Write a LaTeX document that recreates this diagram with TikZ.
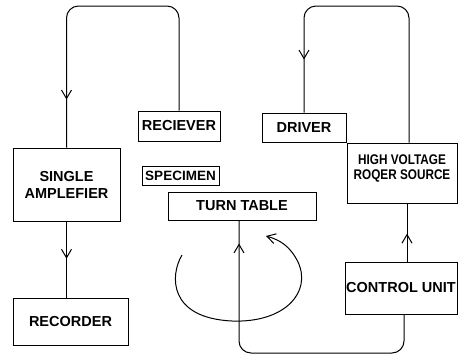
\documentclass[tikz,border=0pt]{standalone}
\usepackage{fontspec}
\setmainfont{Liberation Sans}
\newfontfamily\narrowsans[FakeStretch=0.84]{Liberation Sans}
\usetikzlibrary{arrows.meta, positioning, calc, decorations.markings}

\begin{document}
\begin{tikzpicture}[
  x=1pt, y=-1pt,
  line width=1pt,
  box/.style={rectangle, draw, inner sep=1pt, align=center,
              font=\fontsize{14.5}{17}\selectfont\bfseries},
  arr/.style={postaction={decorate},
              decoration={markings, mark=at position #1 with
                {\arrow{Straight Barb[length=8.5pt, width=10pt]}}}},
  wire/.style={rounded corners=12pt},
]
\useasboundingbox (0,0) rectangle (459,357);

\node[box, minimum width=82pt, minimum height=30pt] (rec) at (179,126) {RECIEVER};
\node[box, minimum width=107pt, minimum height=73pt] (amp) at (66.5,184.5) {SINGLE\\AMPLEFIER};
\node[box, minimum width=115pt, minimum height=47pt, below=76pt of amp.south west, anchor=north west] (rcd) {RECORDER};
\node[box, minimum width=77pt, minimum height=19pt, inner sep=0pt, font=\fontsize{13.5}{15}\selectfont\bfseries] (spec) at (180.5,175.5) {SPECIMEN};
\node[box, minimum width=148pt, minimum height=28pt] (tt) at (242,206) {TURN TABLE};
\node[box, minimum width=84pt, minimum height=29pt] (drv) at (304,127.5) {DRIVER};
\node[box, minimum width=110pt, minimum height=60pt, text height=16pt,
      font=\fontsize{14}{15}\narrowsans\bfseries] (hv) at (402,173) {HIGH VOLTAGE\\ROQER SOURCE};
\node[box, minimum width=112pt, minimum height=52pt, below=58pt of hv.south east, anchor=north east] (cu) {CONTROL UNIT};

% connection points
\coordinate (topL) at (0,6);
\coordinate (botL) at (0,353);
\coordinate (hvin) at ([xshift=7pt]hv.north);
\coordinate (cuout) at ([xshift=6pt]cu.north);
\coordinate (cuin) at ([xshift=3pt]cu.south);
\coordinate (ttin) at ([xshift=-3pt]tt.south);

\draw[wire, arr=-48pt] (rec.north) -- (rec.north |- topL) -- (amp.north |- topL) -- (amp.north);
\draw[arr=0.49] (amp.south) -- (amp.south |- rcd.north);
\draw[wire, arr=-53pt] (hvin) -- (hvin |- topL) -- (drv.north |- topL) -- (drv.north);
\draw[arr=0.48] (cuout) -- (cuout |- hv.south);
\draw[wire, arr=-23pt] (cuin) -- (cuin |- botL) -- (ttin |- botL) -- (ttin);

% rotation of the table
\draw[-{Straight Barb[length=8.5pt, width=10pt]}] (182,255) .. controls (170,275) and (168,318) .. (232,321)
  .. controls (285,323) and (312,292) .. (298,262) .. controls (290,246) and (280,240) .. (266,236);
\end{tikzpicture}
\end{document}
